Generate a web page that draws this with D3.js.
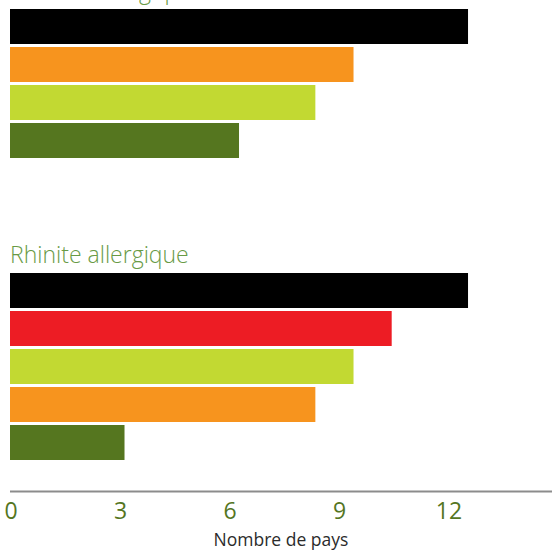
<!DOCTYPE html>
<html>
<head>
<meta charset="utf-8">
<script src="https://cdn.jsdelivr.net/npm/d3@7"></script>
<style>
  html, body { margin: 0; padding: 0; background: #fff; }
  svg { display: block; }
</style>
</head>
<body>
<svg id="chart" width="552" height="551"></svg>
<script>
// Panels (condition), bar values (number of countries) and bar colours
const panels = ["Asthme allergique", "Rhinite allergique"];
const asthmeValues = [12, 9, 8, 6];
const asthmeColors = ["#000000", "#f7941e", "#c2d932", "#55761f"];
const rhiniteValues = [12, 10, 9, 8, 3];
const rhiniteColors = ["#000000", "#ed1c24", "#c2d932", "#f7941e", "#55761f"];
const tickValues = [0, 3, 6, 9, 12];
const axisTitle = "Nombre de pays";

const svg = d3.select("#chart");
const W = 552;

const x = d3.scaleLinear().domain([0, 14.2]).range([10, W]);
// tick labels sit on a slightly tighter spacing than the bars
const xTicks = d3.scaleLinear().domain([0, 14.85]).range([10.5, W + 0.5]);

const barStep = 38, barGap = 3;
const panelData = [
  { title: panels[0], values: asthmeValues, colors: asthmeColors, top: 9 },
  { title: panels[1], values: rhiniteValues, colors: rhiniteColors, top: 273 }
];

panelData.forEach(p => {
  const n = p.values.length;
  const y = d3.scaleBand()
    .domain(d3.range(n))
    .range([p.top, p.top + n * barStep - barGap])
    .paddingInner(barGap / barStep)
    .paddingOuter(0);

  const g = svg.append("g");
  g.append("text")
    .attr("x", 10)
    .attr("y", p.top - 10)
    .attr("fill", "#689a45")
    .attr("font-family", "'Open Sans', sans-serif")
    .attr("font-weight", 300)
    .attr("font-size", 23)
    .text(p.title);

  g.selectAll("rect")
    .data(p.values)
    .join("rect")
    .attr("x", x(0))
    .attr("y", (d, i) => y(i))
    .attr("width", d => x(d) - x(0))
    .attr("height", y.bandwidth())
    .attr("fill", (d, i) => p.colors[i]);
});

// bottom axis
const axisY = 491.5;
const axis = svg.append("g")
  .attr("transform", `translate(0,${axisY})`)
  .call(d3.axisBottom(xTicks).tickValues(tickValues).tickSize(0).tickSizeOuter(0));
axis.select(".domain")
  .attr("d", `M${x(0)},0H${W}`)
  .attr("stroke", "#8c8c8c")
  .attr("stroke-width", 2);
axis.selectAll(".tick text")
  .attr("y", 27.5)
  .attr("dy", 0)
  .attr("fill", "#55761f")
  .attr("font-family", "'Open Sans', sans-serif")
  .attr("font-size", 23);

svg.append("text")
  .attr("x", 281)
  .attr("y", 546)
  .attr("text-anchor", "middle")
  .attr("fill", "#2b2b2b")
  .attr("font-family", "'Open Sans', sans-serif")
  .attr("font-size", 17.5)
  .text(axisTitle);
</script>
</body>
</html>
